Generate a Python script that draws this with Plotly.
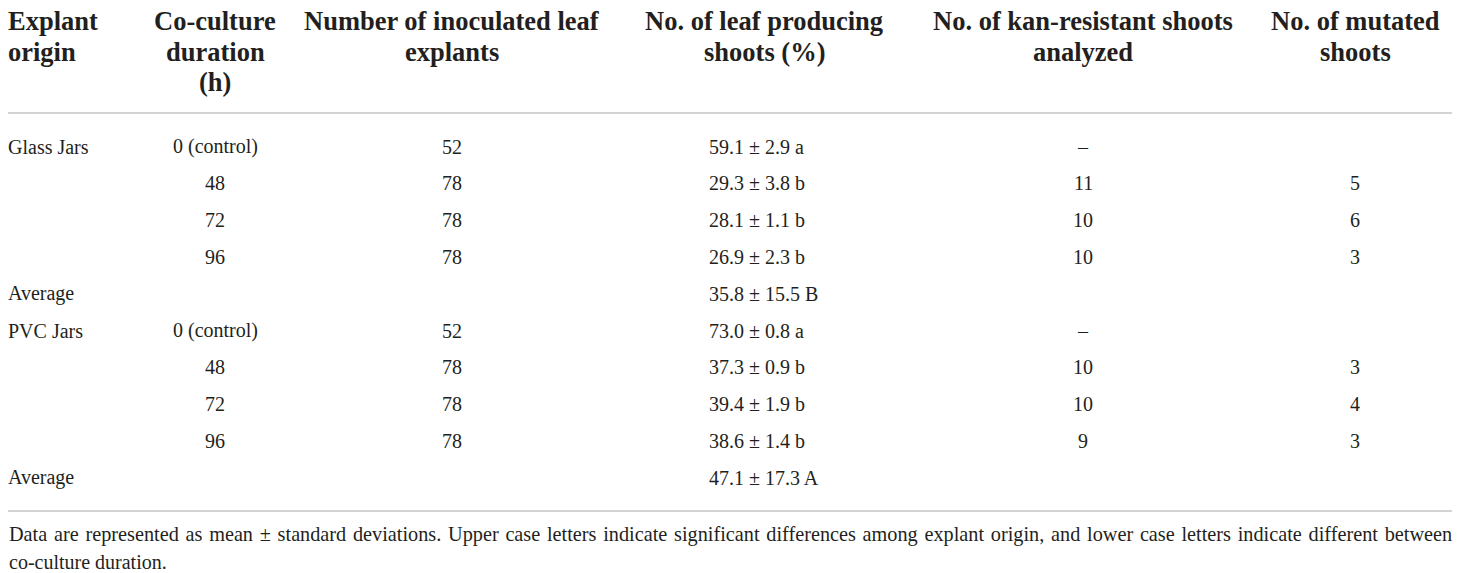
import plotly.graph_objects as go

# table data
origin = ["Glass Jars", "", "", "", "Average", "PVC Jars", "", "", "", "Average"]
duration = ["0 (control)", "48", "72", "96", "", "0 (control)", "48", "72", "96", ""]
explants = [52, 78, 78, 78, None, 52, 78, 78, 78, None]
shoot_mean = [59.1, 29.3, 28.1, 26.9, 35.8, 73.0, 37.3, 39.4, 38.6, 47.1]
shoot_sd = [2.9, 3.8, 1.1, 2.3, 15.5, 0.8, 0.9, 1.9, 1.4, 17.3]
shoot_letter = ["a", "b", "b", "b", "B", "a", "b", "b", "b", "A"]
kan_resistant = ["–", 11, 10, 10, None, "–", 10, 10, 9, None]
mutated = [None, 5, 6, 3, None, None, 3, 4, 3, None]

headers = [
    ["Explant", "origin"],
    ["Co-culture", "duration", "(h)"],
    ["Number of inoculated leaf", "explants"],
    ["No. of leaf producing", "shoots (%)"],
    ["No. of kan-resistant shoots", "analyzed"],
    ["No. of mutated", "shoots"],
]
footnote = [
    "Data are represented as mean ± standard deviations. Upper case letters indicate significant differences among explant origin, and lower case letters indicate different between",
    "co-culture duration.",
]

W, H = 1460, 573
off = 8  # page body margin
ink = "#231f20"
rule = "#c4c4c4"
serif = "Liberation Serif, Times New Roman, serif"

# column layout: (header x, header anchor, cell x, cell anchor)
cols = [
    (8, "left", 8, "left"),
    (215, "center", 215, "center"),
    (452, "center", 452, "center"),
    (764, "center", 707, "left"),
    (1083, "center", 1083, "center"),
    (1355, "center", 1355, "center"),
]

shoots = [f"{m:.1f} ± {s:.1f} {l}" for m, s, l in zip(shoot_mean, shoot_sd, shoot_letter)]
columns = [origin, duration, explants, shoots, kan_resistant, mutated]

row_top, row_step = 146.5, 36.8
head_top, head_step = 21, 30.5

annotations = []
for (hx, ha, cx, ca), head, values in zip(cols, headers, columns):
    shift = -2 if ca == "left" and cx == 8 else 0
    for j, line in enumerate(head):
        annotations.append(dict(
            x=hx, y=head_top + j * head_step, text=line, xanchor=ha, yanchor="middle",
            xshift=shift, showarrow=False,
            font=dict(family=serif, size=26.5, color=ink, weight="bold"),
        ))
    for i, v in enumerate(values):
        if v is None or v == "":
            continue
        annotations.append(dict(
            x=cx, y=row_top + i * row_step, text=str(v), xanchor=ca, yanchor="middle",
            xshift=shift, showarrow=False, font=dict(family=serif, size=20, color=ink),
        ))

# first footnote line is justified in the original: widen the word gaps a little
foot_lines = [footnote[0].replace(" ", " \u200a"), footnote[1]]
foot_sizes = [20.25, 20]
for i, line in enumerate(foot_lines):
    annotations.append(dict(
        x=8, y=534 + i * 28, text=line, xanchor="left", yanchor="middle", xshift=-1,
        showarrow=False, font=dict(family=serif, size=foot_sizes[i], color=ink),
    ))

shapes = [
    dict(type="line", x0=5, x1=1453, y0=113, y1=113, line=dict(color=rule, width=1.5)),
    dict(type="line", x0=5, x1=1453, y0=511, y1=511, line=dict(color=rule, width=1.5)),
]

fig = go.Figure()
fig.update_layout(
    width=W, height=H,
    margin=dict(l=0, r=0, t=0, b=0),
    paper_bgcolor="white", plot_bgcolor="white",
    xaxis=dict(range=[off, W + off], visible=False, fixedrange=True),
    yaxis=dict(range=[H + off, off], visible=False, fixedrange=True),
    annotations=annotations, shapes=shapes, showlegend=False,
)
fig.write_html("out.html")
